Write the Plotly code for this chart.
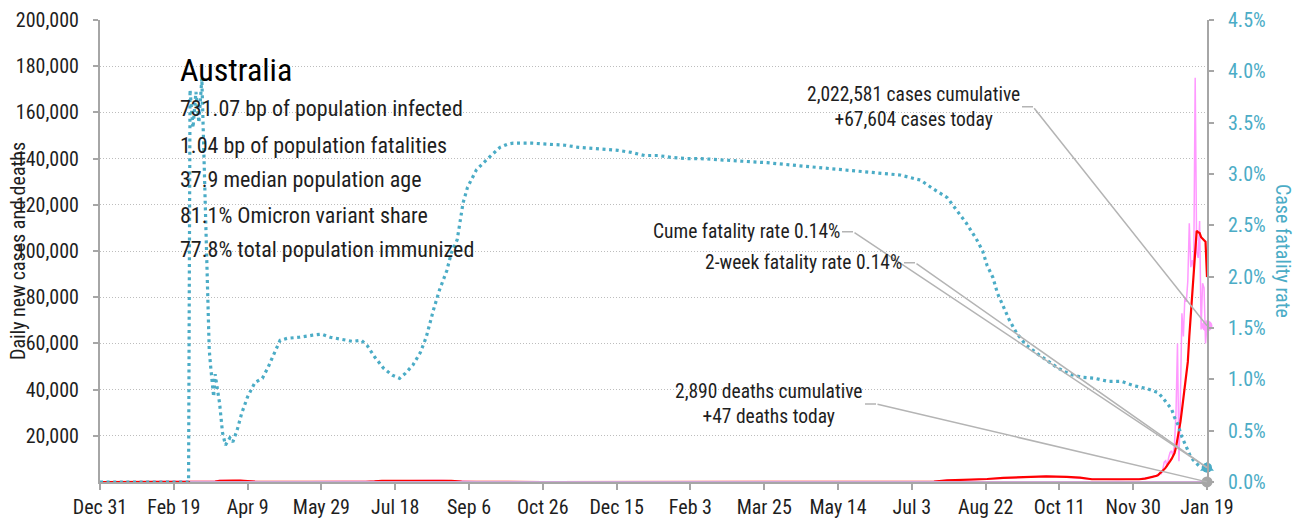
import pandas as pd
import plotly.graph_objects as go

START = pd.Timestamp("2019-12-31")


def to_dates(days):
    return [START + pd.Timedelta(days=int(d)) for d in days]


# ---- x axis ticks (every 50 days) ----
tick_days = list(range(0, 751, 50))
tick_labels = ["Dec 31", "Feb 19", "Apr 9", "May 29", "Jul 18", "Sep 6", "Oct 26", "Dec 15",
               "Feb 3", "Mar 25", "May 14", "Jul 3", "Aug 22", "Oct 11", "Nov 30", "Jan 19"]

# ---- right axis ticks ----
rate_ticks = [0, 0.5, 1, 1.5, 2, 2.5, 3, 3.5, 4, 4.5]
rate_labels = ["0.0%", "0.5%", "1.0%", "1.5%", "2.0%", "2.5%", "3.0%", "3.5%", "4.0%", "4.5%"]

# ---- case fatality rate, % (right axis); days since Dec 31, 2019 ----
cfr_day = [0, 60, 61, 63, 65, 67, 69, 72, 73, 74, 75, 76, 77, 78, 79, 81, 83, 85, 88, 90,
           93, 96, 100, 105, 110, 114, 117, 120, 122, 127, 135, 144, 150, 156, 163, 171, 177, 181, 186, 192,
           198, 203, 207, 212, 217, 221, 226, 230, 235, 238, 242, 246, 249, 255, 262, 271, 276, 280, 293, 301,
           315, 324, 333, 342, 351, 360, 369, 378, 388, 398, 407, 429, 452, 474, 497, 520, 542, 556, 564, 574,
           581, 587, 594, 598, 601, 605, 608, 612, 616, 621, 627, 635, 642, 649, 657, 665, 674, 683, 692, 700,
           709, 717, 720, 723, 726, 728, 730, 733, 735, 737, 739, 742, 745, 750]
cfr_pct = [0, 0, 3.82, 3.45, 3.80, 3.50, 3.93, 2.19, 1.74, 1.29, 1.12, 0.95, 0.83, 1.05, 0.96, 0.77, 0.48, 0.36, 0.43, 0.39,
           0.51, 0.67, 0.83, 0.97, 1.01, 1.12, 1.22, 1.31, 1.38, 1.40, 1.41, 1.43, 1.44, 1.41, 1.39, 1.37, 1.38, 1.33, 1.22, 1.11,
           1.04, 1.01, 1.06, 1.14, 1.26, 1.41, 1.68, 1.87, 2.06, 2.23, 2.36, 2.72, 2.87, 3.04, 3.14, 3.26, 3.29, 3.30, 3.30, 3.29,
           3.28, 3.26, 3.25, 3.24, 3.23, 3.21, 3.18, 3.18, 3.16, 3.15, 3.15, 3.13, 3.11, 3.08, 3.05, 3.02, 2.99, 2.94, 2.86, 2.77,
           2.63, 2.52, 2.36, 2.25, 2.11, 1.99, 1.84, 1.70, 1.58, 1.45, 1.34, 1.25, 1.18, 1.11, 1.05, 1.02, 1.01, 0.98, 0.98, 0.94,
           0.91, 0.87, 0.82, 0.77, 0.71, 0.63, 0.57, 0.44, 0.38, 0.31, 0.24, 0.19, 0.15, 0.14]
cume_cfr_today = 0.14
two_week_cfr_today = 0.14

# ---- daily new cases, 7-day average (left axis) ----
avg_day = [0, 60, 65, 72, 78, 81, 85, 90, 95, 100, 105, 110, 120, 150, 170, 180, 186, 191, 200, 210,
           218, 225, 232, 238, 245, 255, 270, 300, 360, 450, 540, 555, 565, 574, 590, 601, 612, 625, 641, 655,
           664, 672, 690, 704, 708, 712, 714, 716, 717, 718] + list(range(719, 751))
avg_cases = [0, 0, 10, 60, 180, 550, 650, 620, 560, 500, 150, 40, 15, 15, 30, 100, 250, 500, 550, 600,
             650, 680, 620, 500, 200, 100, 30, 10, 15, 10, 20, 80, 200, 700, 900, 1300, 1800, 2000, 2400, 2200,
             1900, 1200, 1100, 1200, 1500, 2000, 2300, 2700, 3100, 3600,
             4300, 4800, 5500, 6200, 7000, 8000, 9000, 10000, 11000, 12500,
             15000, 18500, 22000, 26000, 31000, 36000, 40000, 45000, 52000, 63000,
             72000, 80000, 90000, 100000, 108700, 108200, 107800, 106000, 105200, 104800,
             104000, 88700]

# ---- daily new cases, as reported (left axis) ----
daily_day = avg_day[:43] + [704, 706, 708, 710] + list(range(712, 751))
daily_cases = [0, 0, 20, 90, 300, 600, 700, 560, 600, 450, 120, 30, 10, 12, 40, 150, 300, 480, 600, 560,
               700, 620, 650, 420, 180, 90, 20, 8, 20, 12, 25, 100, 230, 750, 950, 1350, 1700, 2100, 2500, 2100,
               1800, 1250, 1050, 1300, 1400, 1700, 1600,
               2100, 2000, 2600, 2500, 3000, 2800, 4000, 3600, 5200, 8600,
               9200, 6500, 10500, 12800, 13500, 11000, 16800, 30000, 60000, 9000,
               37000, 73000, 63000, 80000, 78000, 87000, 112000, 93000, 96000, 92000,
               175000, 100000, 97000, 113000, 66000, 86000, 84000, 60000, 67604]

# ---- daily deaths (left axis) ----
death_day = [61, 90, 120, 180, 210, 240, 270, 300, 420, 560, 600, 640, 680, 720, 740, 750]
daily_deaths = [1, 3, 1, 2, 15, 20, 5, 0, 0, 0, 5, 12, 6, 6, 40, 47]

# ---- text ----
country = "Australia"
facts = ["731.07 bp of population infected",
         "1.04 bp of population fatalities",
         "37.9 median population age",
         "81.1% Omicron variant share",
         "77.8% total population immunized"]
cases_note = "2,022,581 cases cumulative<br>+67,604 cases today"
deaths_note = "2,890 deaths cumulative<br>+47 deaths today"
cume_note = "Cume fatality rate 0.14%"
two_week_note = "2-week fatality rate 0.14%"

FONT = "Roboto Condensed, Archivo Narrow, DejaVu Sans Condensed, sans-serif"
CYAN = "#4BACC6"
RED = "#FF0000"
PINK = "#FF99FF"
LAVENDER = "#CFA6D6"
GREY = "#A6A6A6"
INK = "#1E1E1E"
LEADER = "#B4B4B4"

end_date = START + pd.Timedelta(days=750)

fig = go.Figure()

fig.add_trace(go.Scatter(x=to_dates(daily_day), y=daily_cases, mode="lines",
                         line=dict(color=PINK, width=1.5), cliponaxis=False, yaxis="y"))
fig.add_trace(go.Scatter(x=to_dates(avg_day), y=avg_cases, mode="lines",
                         line=dict(color=RED, width=2.2), cliponaxis=False, yaxis="y"))
fig.add_trace(go.Scatter(x=to_dates(death_day), y=daily_deaths, mode="lines",
                         line=dict(color=LAVENDER, width=2), cliponaxis=False, yaxis="y"))
fig.add_trace(go.Scatter(x=to_dates(cfr_day), y=cfr_pct, mode="lines",
                         line=dict(color=CYAN, width=3.2, dash="3px,3.6px"), cliponaxis=False, yaxis="y2"))

# end-of-series markers
fig.add_trace(go.Scatter(x=[end_date], y=[daily_cases[-1]], mode="markers",
                         marker=dict(color=PINK, size=11), cliponaxis=False, yaxis="y"))
fig.add_trace(go.Scatter(x=[end_date], y=[daily_deaths[-1]], mode="markers",
                         marker=dict(color=GREY, size=11), cliponaxis=False, yaxis="y"))
fig.add_trace(go.Scatter(x=[end_date], y=[cume_cfr_today], mode="markers",
                         marker=dict(color=CYAN, size=10, symbol="circle"), cliponaxis=False, yaxis="y2"))
fig.add_trace(go.Scatter(x=[end_date], y=[two_week_cfr_today], mode="markers",
                         marker=dict(color=CYAN, size=12, symbol="triangle-up"), cliponaxis=False, yaxis="y2"))

annotations = []

# title block
annotations.append(dict(text=country, x=0.0705, y=0.892, xref="paper", yref="paper",
                        xanchor="left", yanchor="middle", showarrow=False,
                        font=dict(family=FONT, size=32, color="#000000")))
fact_y = [0.808, 0.7294, 0.6537, 0.5779, 0.5022]
for t, yy in zip(facts, fact_y):
    annotations.append(dict(text=t, x=0.0705, y=yy, xref="paper", yref="paper",
                            xanchor="left", yanchor="middle", showarrow=False,
                            font=dict(family=FONT, size=22, color=INK)))

# axis titles
annotations.append(dict(text="Daily new cases and deaths", x=-0.0741, y=0.5, xref="paper", yref="paper",
                        textangle=-90, showarrow=False, xanchor="center", yanchor="middle",
                        font=dict(family=FONT, size=20, color=INK)))
annotations.append(dict(text="Case fatality rate", x=1.0687, y=0.5, xref="paper", yref="paper",
                        textangle=90, showarrow=False, xanchor="center", yanchor="middle",
                        font=dict(family=FONT, size=20, color=CYAN)))


def callout(text, yval, yref, dx, dy):
    """Label with a short horizontal stub, plus a diagonal leader to the last point."""
    annotations.append(dict(text=text, x=end_date, y=yval, xref="x", yref=yref,
                            xshift=dx, yshift=dy, ax=-11, ay=0, axref="pixel", ayref="pixel",
                            xanchor="right", yanchor="middle", align="center",
                            showarrow=True, arrowhead=0, arrowwidth=1.5, arrowcolor=LEADER,
                            font=dict(family=FONT, size=19.5, color=INK)))
    annotations.append(dict(text="", x=end_date, y=yval, xref="x", yref=yref,
                            ax=dx, ay=-dy, axref="pixel", ayref="pixel",
                            showarrow=True, arrowhead=0, arrowwidth=1.5, arrowcolor=LEADER))


callout(cases_note, daily_cases[-1], "y", -174, 219)
callout(cume_note, cume_cfr_today, "y2", -354, 236)
callout(two_week_note, two_week_cfr_today, "y2", -292, 205)
callout(deaths_note, daily_deaths[-1], "y", -331, 78)

fig.update_layout(
    width=1305, height=523,
    margin=dict(l=100, r=98, t=20, b=41, autoexpand=False),
    paper_bgcolor="white", plot_bgcolor="white",
    showlegend=False,
    font=dict(family=FONT, size=20, color=INK),
    annotations=annotations,
    xaxis=dict(
        type="date", automargin=False,
        range=[START, end_date],
        tickvals=to_dates(tick_days), ticktext=tick_labels,
        showgrid=False, zeroline=False,
        showline=True, linecolor=GREY, linewidth=2,
        ticks="outside", ticklen=6, tickwidth=2, tickcolor=GREY,
        tickfont=dict(family=FONT, size=20, color=INK),
        ticklabelstandoff=0,
    ),
    yaxis=dict(
        automargin=False,
        range=[0, 200000],
        tickvals=list(range(20000, 200001, 20000)),
        tickformat=",d",
        showgrid=True, gridcolor="#BDBDBD", gridwidth=1, griddash="1px,2px",
        zeroline=False,
        showline=True, linecolor=GREY, linewidth=2,
        ticks="outside", ticklen=5, tickwidth=2, tickcolor=GREY,
        tickfont=dict(family=FONT, size=20, color=INK),
        ticklabelstandoff=10,
    ),
    yaxis2=dict(
        automargin=False,
        range=[0, 4.5], overlaying="y", side="right",
        tickvals=rate_ticks, ticktext=rate_labels,
        showgrid=False, zeroline=False,
        showline=True, linecolor=GREY, linewidth=2,
        ticks="outside", ticklen=5, tickwidth=2, tickcolor=GREY,
        tickfont=dict(family=FONT, size=20, color=CYAN),
        ticklabelstandoff=10,
    ),
)

fig.write_html("out.html")
